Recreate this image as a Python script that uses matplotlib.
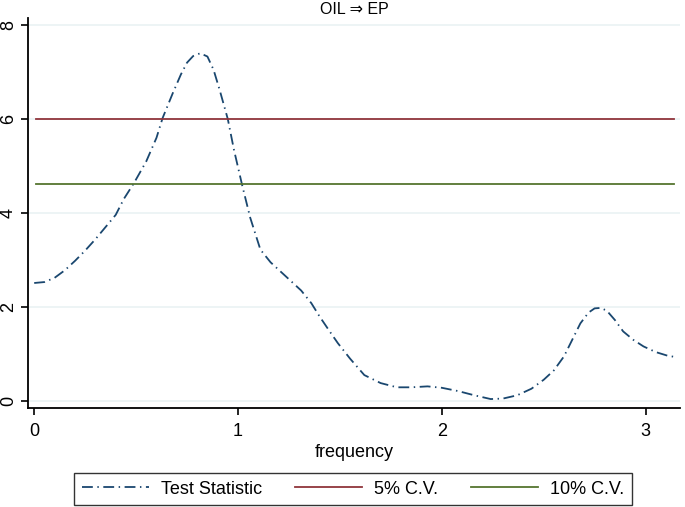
"""Spectral causality test statistic, OIL => EP, with critical values."""

import matplotlib
matplotlib.use("Agg")
import matplotlib.pyplot as plt

plt.rcParams["font.family"] = ["Liberation Sans", "DejaVu Sans"]

# Test statistic (frequency, value)
freq = [0.00, 0.05, 0.10, 0.15, 0.20, 0.25, 0.30, 0.35, 0.40, 0.44, 0.49,
        0.55, 0.60, 0.63, 0.68, 0.72, 0.75, 0.78, 0.815, 0.85, 0.88, 0.91,
        0.95, 0.98, 1.02, 1.06, 1.11, 1.16, 1.21, 1.26, 1.31, 1.36, 1.40,
        1.45, 1.49, 1.55, 1.62, 1.70, 1.78, 1.85, 1.93, 2.00, 2.08, 2.16,
        2.24, 2.30, 2.37, 2.44, 2.50, 2.55, 2.60, 2.64, 2.68, 2.72, 2.75,
        2.78, 2.81, 2.85, 2.89, 2.94, 2.99, 3.05, 3.11, 3.14]
stat = [2.51, 2.53, 2.62, 2.78, 2.98, 3.20, 3.44, 3.70, 3.96, 4.30, 4.64,
        5.10, 5.60, 6.02, 6.55, 6.95, 7.20, 7.34, 7.40, 7.33, 7.05, 6.62,
        6.00, 5.35, 4.60, 3.90, 3.22, 2.95, 2.75, 2.55, 2.35, 2.08, 1.80,
        1.48, 1.23, 0.90, 0.55, 0.38, 0.29, 0.29, 0.31, 0.28, 0.21, 0.12,
        0.04, 0.05, 0.12, 0.26, 0.45, 0.65, 0.95, 1.30, 1.65, 1.88, 1.97,
        1.98, 1.92, 1.72, 1.48, 1.30, 1.16, 1.04, 0.96, 0.94]

cv5 = 5.99
cv10 = 4.61
cv_freq = [0.01, 3.14]

yticks = [0, 2, 4, 6, 8]
xticks = [0, 1, 2, 3]

NAVY = "#1a476f"
MAROON = "#90353b"
GREEN = "#55752f"
GRID = "#eaf2f3"

fig = plt.figure(figsize=(6.85, 5.07), dpi=100)
ax = fig.add_axes([0.041, 0.1953, 0.952, 0.7692])

for y in yticks:
    ax.axhline(y, color=GRID, lw=1.2, zorder=0)

ax.plot(freq, stat, color=NAVY, lw=1.3,
        linestyle=(0, (6, 2.5, 0.8, 2.5)), label="Test Statistic")
ax.plot(cv_freq, [cv5, cv5], color=MAROON, lw=1.3, label="5% C.V.")
ax.plot(cv_freq, [cv10, cv10], color=GREEN, lw=1.3, label="10% C.V.")

ax.set_xlim(-0.03, 3.17)
ax.set_ylim(-0.15, 8.15)
ax.set_xticks(xticks)
ax.set_yticks(yticks)
ax.tick_params(axis="both", direction="out", length=5, width=1.2,
               labelsize=13, colors="black")
ax.tick_params(axis="x", pad=6)
ax.tick_params(axis="y", labelrotation=90, pad=3)
for label in ax.get_yticklabels():
    label.set_va("center")

for side in ["top", "right"]:
    ax.spines[side].set_visible(False)
for side in ["left", "bottom"]:
    ax.spines[side].set_linewidth(1.3)
    ax.spines[side].set_color("black")

ax.set_xlabel("frequency", fontsize=13, labelpad=3)
ax.set_title("OIL \u21d2 EP", fontsize=11.5, pad=3)

leg = fig.legend(loc="center", bbox_to_anchor=(353 / 685, 1 - 489 / 507),
                 ncol=3, fontsize=13, frameon=True, fancybox=False,
                 handlelength=3.7, handletextpad=0.7, columnspacing=1.8,
                 borderpad=0.4, edgecolor="black")
leg.get_frame().set_linewidth(1.0)

fig.savefig("out.png", dpi=100, facecolor="white")
